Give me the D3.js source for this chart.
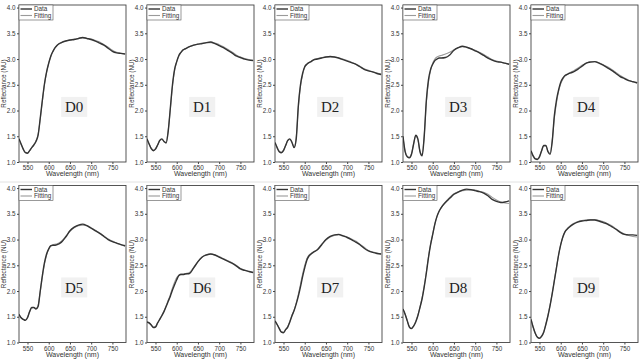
<!DOCTYPE html>
<html>
<head>
<meta charset="utf-8">
<script src="https://cdn.jsdelivr.net/npm/d3@7"></script>
<style>
  body { margin: 0; background: #fff; }
  svg { display: block; font-family: "Liberation Sans", Arial, sans-serif; }
</style>
</head>
<body>
<div id="chart"></div>
<script>
// wavelengths (nm) shared by every panel
var wavelengths = [530, 535, 540, 545, 550, 555, 560, 565, 570, 575, 580, 585, 590, 595, 600, 605, 610, 615, 620,
  630, 640, 650, 660, 670, 680, 690, 700, 710, 720, 730, 740, 750, 760, 770, 780];

var panelNames = ["D0", "D1", "D2", "D3", "D4", "D5", "D6", "D7", "D8", "D9"];
var xTicks = [550, 600, 650, 700, 750];
var yTicks = [1.0, 1.5, 2.0, 2.5, 3.0, 3.5, 4.0];

// measured reflectance, one array per sample
var dataD0 = [1.45, 1.35, 1.25, 1.18, 1.17, 1.22, 1.28, 1.33, 1.40, 1.52, 1.85, 2.20, 2.52, 2.75, 2.92, 3.06, 3.15, 3.22, 3.27, 3.32, 3.35, 3.37, 3.38, 3.40, 3.42, 3.40, 3.38, 3.35, 3.31, 3.27, 3.21, 3.15, 3.12, 3.11, 3.10];
var dataD1 = [1.45, 1.35, 1.26, 1.22, 1.25, 1.33, 1.42, 1.45, 1.40, 1.37, 1.60, 2.05, 2.50, 2.80, 2.95, 3.07, 3.13, 3.18, 3.20, 3.24, 3.27, 3.29, 3.30, 3.32, 3.33, 3.30, 3.26, 3.22, 3.17, 3.12, 3.06, 3.03, 3.00, 2.98, 2.97];
var dataD2 = [1.38, 1.28, 1.20, 1.18, 1.22, 1.32, 1.42, 1.45, 1.38, 1.28, 1.45, 2.10, 2.50, 2.72, 2.85, 2.90, 2.93, 2.95, 2.98, 3.00, 3.02, 3.04, 3.05, 3.04, 3.02, 2.99, 2.96, 2.93, 2.90, 2.85, 2.80, 2.77, 2.75, 2.72, 2.70];
var dataD3 = [1.50, 1.20, 1.10, 1.08, 1.15, 1.35, 1.52, 1.45, 1.20, 1.12, 1.50, 2.20, 2.60, 2.80, 2.90, 2.97, 3.00, 3.02, 3.02, 3.03, 3.08, 3.17, 3.22, 3.25, 3.23, 3.20, 3.16, 3.12, 3.07, 3.02, 2.98, 2.95, 2.94, 2.92, 2.90];
var dataD4 = [1.22, 1.12, 1.06, 1.05, 1.10, 1.22, 1.32, 1.32, 1.20, 1.15, 1.40, 1.90, 2.20, 2.40, 2.55, 2.63, 2.68, 2.70, 2.72, 2.75, 2.80, 2.86, 2.92, 2.94, 2.95, 2.92, 2.88, 2.83, 2.78, 2.72, 2.66, 2.62, 2.58, 2.56, 2.54];
var dataD5 = [1.55, 1.48, 1.45, 1.43, 1.48, 1.60, 1.68, 1.68, 1.65, 1.70, 2.00, 2.30, 2.55, 2.72, 2.82, 2.88, 2.89, 2.89, 2.90, 2.95, 3.05, 3.17, 3.24, 3.28, 3.30, 3.27, 3.22, 3.17, 3.12, 3.06, 3.00, 2.96, 2.93, 2.90, 2.88];
var dataD6 = [1.40, 1.38, 1.34, 1.29, 1.30, 1.38, 1.45, 1.52, 1.60, 1.70, 1.80, 1.90, 2.02, 2.12, 2.22, 2.30, 2.32, 2.32, 2.33, 2.34, 2.45, 2.57, 2.66, 2.70, 2.72, 2.70, 2.66, 2.62, 2.58, 2.54, 2.49, 2.43, 2.40, 2.38, 2.36];
var dataD7 = [1.42, 1.35, 1.27, 1.20, 1.19, 1.25, 1.30, 1.40, 1.52, 1.62, 1.75, 1.90, 2.08, 2.28, 2.45, 2.60, 2.68, 2.72, 2.75, 2.80, 2.90, 3.00, 3.06, 3.09, 3.10, 3.07, 3.04, 3.00, 2.95, 2.90, 2.83, 2.78, 2.75, 2.73, 2.72];
var dataD8 = [1.65, 1.55, 1.42, 1.30, 1.27, 1.32, 1.40, 1.52, 1.68, 1.85, 2.08, 2.35, 2.65, 2.90, 3.10, 3.30, 3.45, 3.55, 3.62, 3.72, 3.80, 3.88, 3.92, 3.96, 3.98, 3.97, 3.95, 3.93, 3.90, 3.85, 3.78, 3.74, 3.72, 3.73, 3.75];
var dataD9 = [1.45, 1.30, 1.18, 1.10, 1.08, 1.12, 1.20, 1.35, 1.52, 1.72, 1.95, 2.20, 2.45, 2.70, 2.90, 3.05, 3.15, 3.20, 3.24, 3.30, 3.34, 3.36, 3.37, 3.38, 3.38, 3.36, 3.33, 3.30, 3.25, 3.20, 3.14, 3.10, 3.09, 3.09, 3.08];

// fitted reflectance
var fitD0 = [1.44, 1.34, 1.25, 1.19, 1.18, 1.22, 1.28, 1.34, 1.41, 1.54, 1.83, 2.18, 2.50, 2.74, 2.92, 3.05, 3.15, 3.22, 3.27, 3.32, 3.35, 3.37, 3.39, 3.40, 3.41, 3.40, 3.39, 3.36, 3.33, 3.28, 3.23, 3.17, 3.13, 3.11, 3.09];
var fitD1 = [1.44, 1.35, 1.27, 1.23, 1.26, 1.33, 1.41, 1.44, 1.40, 1.38, 1.62, 2.03, 2.47, 2.78, 2.95, 3.06, 3.13, 3.17, 3.20, 3.24, 3.27, 3.29, 3.31, 3.32, 3.32, 3.31, 3.28, 3.24, 3.19, 3.14, 3.08, 3.04, 3.01, 2.99, 2.98];
var fitD2 = [1.37, 1.28, 1.21, 1.19, 1.23, 1.32, 1.41, 1.44, 1.38, 1.29, 1.48, 2.06, 2.47, 2.70, 2.84, 2.90, 2.93, 2.96, 2.98, 3.01, 3.03, 3.04, 3.04, 3.04, 3.02, 3.00, 2.97, 2.94, 2.90, 2.86, 2.81, 2.78, 2.75, 2.73, 2.71];
var fitD3 = [1.48, 1.21, 1.11, 1.09, 1.16, 1.35, 1.50, 1.44, 1.21, 1.14, 1.52, 2.15, 2.55, 2.78, 2.92, 3.00, 3.04, 3.06, 3.07, 3.10, 3.13, 3.18, 3.22, 3.24, 3.23, 3.20, 3.17, 3.13, 3.09, 3.04, 2.99, 2.96, 2.94, 2.92, 2.90];
var fitD4 = [1.21, 1.12, 1.07, 1.06, 1.11, 1.22, 1.31, 1.31, 1.21, 1.17, 1.42, 1.85, 2.15, 2.37, 2.52, 2.61, 2.67, 2.70, 2.73, 2.77, 2.82, 2.88, 2.92, 2.95, 2.95, 2.93, 2.89, 2.85, 2.80, 2.74, 2.68, 2.63, 2.59, 2.56, 2.53];
var fitD5 = [1.54, 1.48, 1.45, 1.44, 1.49, 1.60, 1.67, 1.68, 1.66, 1.72, 1.98, 2.27, 2.52, 2.70, 2.81, 2.87, 2.90, 2.91, 2.92, 2.97, 3.06, 3.16, 3.23, 3.27, 3.28, 3.27, 3.23, 3.18, 3.13, 3.07, 3.01, 2.97, 2.93, 2.90, 2.87];
var fitD6 = [1.40, 1.38, 1.34, 1.30, 1.31, 1.38, 1.45, 1.53, 1.61, 1.71, 1.82, 1.93, 2.06, 2.17, 2.26, 2.31, 2.33, 2.33, 2.34, 2.36, 2.46, 2.57, 2.66, 2.71, 2.72, 2.70, 2.67, 2.63, 2.59, 2.55, 2.50, 2.44, 2.41, 2.38, 2.36];
var fitD7 = [1.42, 1.35, 1.28, 1.21, 1.20, 1.25, 1.31, 1.41, 1.53, 1.63, 1.77, 1.94, 2.13, 2.33, 2.50, 2.63, 2.70, 2.73, 2.76, 2.81, 2.91, 2.99, 3.05, 3.08, 3.09, 3.08, 3.05, 3.01, 2.97, 2.91, 2.85, 2.79, 2.76, 2.74, 2.72];
var fitD8 = [1.64, 1.55, 1.43, 1.31, 1.28, 1.32, 1.41, 1.53, 1.69, 1.87, 2.10, 2.37, 2.66, 2.91, 3.11, 3.30, 3.44, 3.55, 3.62, 3.73, 3.82, 3.89, 3.93, 3.95, 3.96, 3.96, 3.96, 3.94, 3.92, 3.88, 3.82, 3.77, 3.73, 3.71, 3.70];
var fitD9 = [1.45, 1.30, 1.18, 1.11, 1.09, 1.13, 1.21, 1.36, 1.53, 1.73, 1.96, 2.21, 2.46, 2.70, 2.90, 3.05, 3.15, 3.21, 3.25, 3.31, 3.35, 3.37, 3.38, 3.39, 3.39, 3.37, 3.35, 3.31, 3.27, 3.21, 3.15, 3.11, 3.08, 3.06, 3.05];

var measured = [dataD0, dataD1, dataD2, dataD3, dataD4, dataD5, dataD6, dataD7, dataD8, dataD9];
var fitted = [fitD0, fitD1, fitD2, fitD3, fitD4, fitD5, fitD6, fitD7, fitD8, fitD9];

// layout
var svgWidth = 640, svgHeight = 363;
var colPitch = 128, rowPitch = 180.5;
var margin = {top: 5, left: 19};
var width = 107, height = 157;

var svg = d3.select("#chart").append("svg")
  .attr("width", svgWidth)
  .attr("height", svgHeight);

// faint separator between the two rows
svg.append("line")
  .attr("x1", 0).attr("x2", svgWidth)
  .attr("y1", 182).attr("y2", 182)
  .attr("stroke", "#e2e2e2").attr("stroke-width", 1);

var x = d3.scaleLinear().domain([530, 782]).range([0, width]);
var y = d3.scaleLinear().domain([1.0, 4.05]).range([height, 0]);

var line = d3.line()
  .x(function(d, i) { return x(wavelengths[i]); })
  .y(function(d) { return y(d); })
  .curve(d3.curveMonotoneX);

panelNames.forEach(function(name, p) {
  var col = p % 5, row = Math.floor(p / 5);
  var g = svg.append("g")
    .attr("transform", `translate(${col * colPitch + margin.left}, ${row * rowPitch + margin.top})`);

  g.append("clipPath").attr("id", "clip" + p)
    .append("rect").attr("width", width).attr("height", height);

  // axes
  var xAxis = g.append("g")
    .attr("transform", `translate(0, ${height})`)
    .call(d3.axisBottom(x).tickValues(xTicks).tickSize(2).tickPadding(2));
  var yAxis = g.append("g")
    .call(d3.axisLeft(y).tickValues(yTicks).tickFormat(d3.format(".1f")).tickSize(2).tickPadding(1.5));
  [xAxis, yAxis].forEach(function(a) {
    a.select(".domain").remove();
    a.selectAll("line").attr("stroke", "#444");
    a.selectAll("text").attr("font-size", "6.3px").attr("fill", "#333")
      .attr("font-family", "Liberation Sans, Arial, sans-serif");
  });

  // frame
  g.append("rect")
    .attr("width", width).attr("height", height)
    .attr("fill", "none").attr("stroke", "#444").attr("stroke-width", 0.9);

  // axis titles
  g.append("text")
    .attr("x", width / 2).attr("y", height + 14)
    .attr("text-anchor", "middle")
    .attr("font-size", "7px").attr("fill", "#333")
    .text("Wavelength (nm)");
  g.append("text")
    .attr("transform", "rotate(-90)")
    .attr("x", -height / 2).attr("y", -13)
    .attr("text-anchor", "middle")
    .attr("font-size", "6.3px").attr("fill", "#333")
    .text("Reflectance (NU)");

  // panel label
  var lab = g.append("g")
    .attr("transform", `translate(${x(660)}, ${y(2.07)})`);
  lab.append("rect")
    .attr("x", -13).attr("y", -10).attr("width", 26).attr("height", 20)
    .attr("fill", "#f1f1f1");
  lab.append("text")
    .attr("text-anchor", "middle").attr("dy", "0.35em")
    .attr("font-family", "Liberation Serif, Times New Roman, serif")
    .attr("font-size", "15px").attr("fill", "#222")
    .text(name);

  // curves
  var curves = g.append("g").attr("clip-path", `url(#clip${p})`);
  curves.append("path")
    .datum(fitted[p])
    .attr("d", line)
    .attr("fill", "none").attr("stroke", "#9a9a9a").attr("stroke-width", 1.1);
  curves.append("path")
    .datum(measured[p])
    .attr("d", line)
    .attr("fill", "none").attr("stroke", "#333").attr("stroke-width", 1.4);

  // legend
  var leg = g.append("g");
  leg.append("rect")
    .attr("x", 0).attr("y", 0).attr("width", 34).attr("height", 15)
    .attr("fill", "#fff").attr("stroke", "#555").attr("stroke-width", 0.6);
  leg.append("line").attr("x1", 1.5).attr("x2", 13).attr("y1", 4).attr("y2", 4)
    .attr("stroke", "#333").attr("stroke-width", 1.4);
  leg.append("line").attr("x1", 1.5).attr("x2", 13).attr("y1", 10.5).attr("y2", 10.5)
    .attr("stroke", "#9a9a9a").attr("stroke-width", 1.1);
  leg.append("text").attr("x", 15).attr("y", 6.2)
    .attr("font-size", "6.3px").attr("fill", "#333").text("Data");
  leg.append("text").attr("x", 15).attr("y", 12.7)
    .attr("font-size", "6.3px").attr("fill", "#333").text("Fitting");
});
</script>
</body>
</html>
